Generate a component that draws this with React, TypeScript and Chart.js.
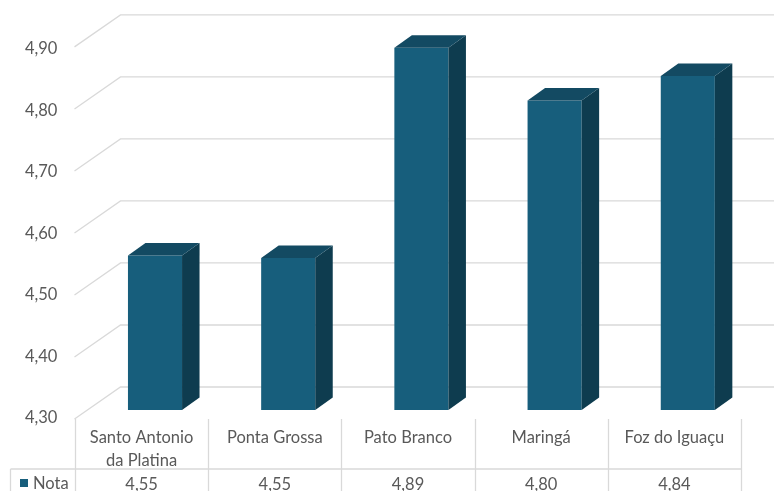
import React, { useEffect, useRef } from "react";
import { Chart, registerables } from "chart.js";

Chart.register(...registerables);

const categories: string[][] = [
  ["Santo Antonio", "da Platina"],
  ["Ponta Grossa"],
  ["Pato Branco"],
  ["Maringá"],
  ["Foz do Iguaçu"],
];
const seriesName = "Nota";
const notaValues: number[] = [4.551, 4.547, 4.889, 4.803, 4.843];
const yMin = 4.3;
const yMax = 4.9;
const yStep = 0.1;

const FRONT = "#175E7C";
const SIDE = "#0E3C4F";
const TOP = "#134A62";
const GRID = "#D9D9D9";
const TEXT = "#595959";
const FONT = "Lato, 'Open Sans', sans-serif";

const fmt = (v: number) => v.toFixed(2).replace(".", ",");

const DEPTH_X = 46;
const DEPTH_Y = 32;
const BAR_DX = 17.5;
const BAR_DY = 12.5;
const PLANE_SHIFT_X = 13.4;

const threeD = {
  id: "threeD",
  beforeDatasetsDraw(chart: any) {
    const { ctx, chartArea, scales } = chart;
    const ys = scales.y;
    const W = chart.width;
    ctx.save();
    ctx.strokeStyle = GRID;
    ctx.lineWidth = 1.3;
    const fx = chartArea.left - PLANE_SHIFT_X - 0.5;
    for (let v = yMin; v <= yMax + 1e-9; v += yStep) {
      const yb = ys.getPixelForValue(v);
      const fy = chartArea.top + 6 + (yb - chartArea.top) * (373 / 370);
      const by = fy - DEPTH_Y;
      ctx.beginPath();
      ctx.moveTo(fx, fy);
      ctx.lineTo(fx + DEPTH_X, by);
      ctx.lineTo(W, by);
      ctx.stroke();
    }
    ctx.restore();
  },
  afterDatasetsDraw(chart: any) {
    const { ctx, scales } = chart;
    const meta = chart.getDatasetMeta(0);
    const floor = scales.y.getPixelForValue(yMin);
    ctx.save();
    meta.data.forEach((bar: any) => {
      const { x, y, width } = bar.getProps(["x", "y", "width"], true);
      const base = floor;
      const l = x - width / 2;
      const r = x + width / 2;
      ctx.fillStyle = SIDE;
      ctx.beginPath();
      ctx.moveTo(r, y);
      ctx.lineTo(r + BAR_DX, y - BAR_DY);
      ctx.lineTo(r + BAR_DX, base - BAR_DY);
      ctx.lineTo(r, base);
      ctx.closePath();
      ctx.fill();
      ctx.fillStyle = TOP;
      ctx.beginPath();
      ctx.moveTo(l, y);
      ctx.lineTo(l + BAR_DX, y - BAR_DY);
      ctx.lineTo(r + BAR_DX, y - BAR_DY);
      ctx.lineTo(r, y);
      ctx.closePath();
      ctx.fill();
    });
    ctx.restore();
  },
  afterDraw(chart: any) {
    const { ctx, scales, chartArea } = chart;
    const xs = scales.x;
    const n = categories.length;
    const half = (xs.getPixelForValue(1) - xs.getPixelForValue(0)) / 2;
    const centers = categories.map((_, i) => xs.getPixelForValue(i) - PLANE_SHIFT_X);
    const H = chart.height;
    const topY = chartArea.bottom + 9;
    const rowY = topY + 50;
    ctx.save();
    ctx.strokeStyle = GRID;
    ctx.lineWidth = 1.3;
    const bounds = [centers[0] - half, ...centers.map((c) => c + half)];
    bounds.forEach((bx) => {
      ctx.beginPath();
      ctx.moveTo(Math.round(bx) + 0.5, topY);
      ctx.lineTo(Math.round(bx) + 0.5, H);
      ctx.stroke();
    });
    const leftX = 10.5;
    ctx.beginPath();
    ctx.moveTo(leftX, rowY);
    ctx.lineTo(Math.round(bounds[n]) + 0.5, rowY);
    ctx.stroke();
    ctx.beginPath();
    ctx.moveTo(leftX, rowY);
    ctx.lineTo(leftX, H);
    ctx.stroke();

    ctx.fillStyle = TEXT;
    ctx.font = `16.5px ${FONT}`;
    ctx.textAlign = "center";
    ctx.textBaseline = "middle";
    categories.forEach((lines, i) => {
      lines.forEach((t, j) => {
        ctx.fillText(t, centers[i], topY + 19 + j * 23);
      });
      ctx.fillText(fmt(notaValues[i]), centers[i], rowY + 16);
    });
    ctx.fillStyle = FRONT;
    ctx.fillRect(20, rowY + 10, 8, 8);
    ctx.fillStyle = TEXT;
    ctx.textAlign = "left";
    ctx.fillText(seriesName, 33, rowY + 15);
    ctx.restore();
  },
};

export default function App() {
  const ref = useRef<HTMLCanvasElement | null>(null);
  useEffect(() => {
    document.body.style.margin = "0";
    if (!ref.current) return;
    const chart = new Chart(ref.current, {
      type: "bar",
      data: {
        labels: categories.map((c) => c.join(" ")),
        datasets: [
          {
            label: seriesName,
            data: notaValues,
            backgroundColor: FRONT,
            base: yMin,
            barPercentage: 0.406,
            categoryPercentage: 1,
            borderWidth: 0,
          } as any,
        ],
      },
      options: {
        responsive: false,
        animation: false,
        layout: { padding: { top: 40, bottom: 81, right: 19.6, left: 0 } },
        plugins: { legend: { display: false }, tooltip: { enabled: false } },
        scales: {
          x: { display: false },
          y: {
            min: yMin,
            max: yMax,
            border: { display: false },
            grid: { display: false, drawTicks: false },
            afterFit: (s: any) => {
              s.width = 88.4;
            },
            ticks: {
              stepSize: yStep,
              padding: 31,
              labelOffset: 8,
              color: TEXT,
              font: { size: 16.5, family: FONT },
              callback: (v: any) => fmt(Number(v)),
            },
          },
        },
      },
      plugins: [threeD],
    });
    return () => chart.destroy();
  }, []);
  return (
    <div style={{ width: 774, height: 491 }}>
      <canvas ref={ref} width={774} height={491} />
    </div>
  );
}
